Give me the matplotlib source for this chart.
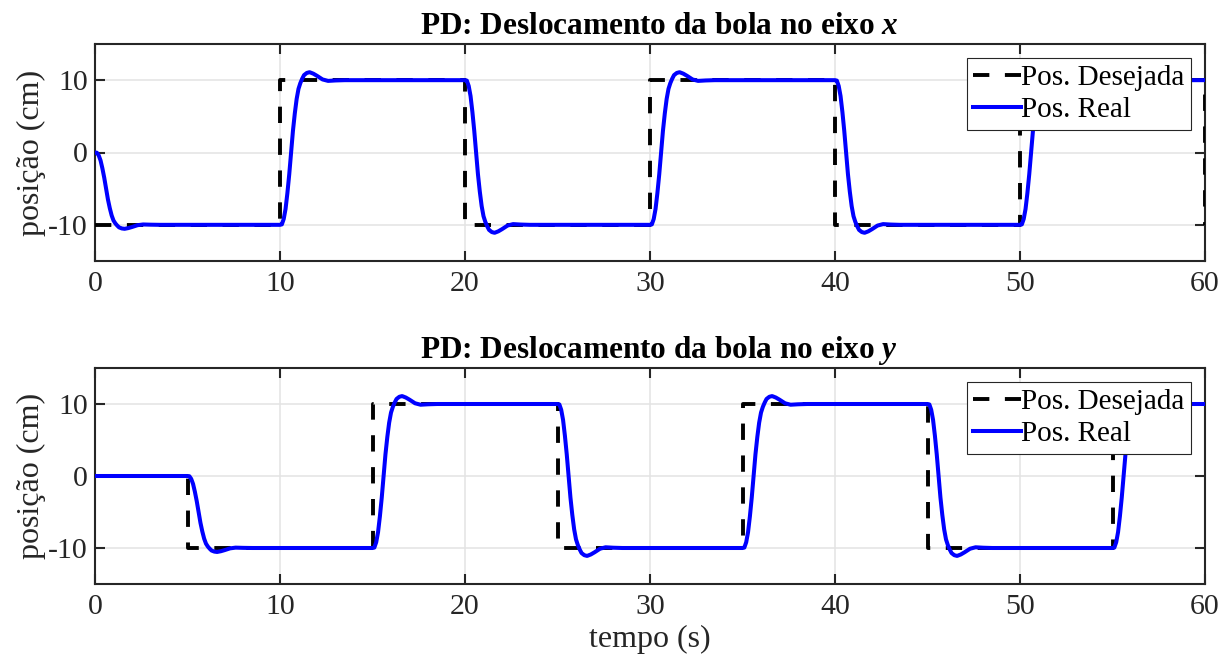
#!/usr/bin/env python
# PD controller: desired vs real ball position, x and y axes
import numpy as np
import matplotlib
matplotlib.use("Agg")
import matplotlib.pyplot as plt

plt.rcParams['font.family'] = ['Liberation Serif', 'DejaVu Serif']
plt.rcParams['mathtext.fontset'] = 'custom'
plt.rcParams['mathtext.it'] = 'Liberation Serif:italic:bold'
plt.rcParams['mathtext.rm'] = 'Liberation Serif'
tick_fs = 21.5
label_fs = 23
title_fs = 22.5
legend_fs = 21

t_end = 60

# desired reference: step times and level held after each step
x_step_times = [0, 10, 20, 30, 40, 50, 60]
x_levels = [-10, 10, -10, 10, -10, 10, -10]
x_start = 0  # initial ball position (cm)

y_step_times = [0, 5, 15, 25, 35, 45, 55]
y_levels = [0, -10, 10, -10, 10, -10, 10]
y_start = 0

# measured transition shape (fraction of the step) vs seconds after a step,
# read off the plotted response
tau = [0, 0.1, 0.2, 0.3, 0.4, 0.5, 0.6, 0.7, 0.8, 0.9, 1.0, 1.1, 1.2, 1.3,
       1.45, 1.6, 1.8, 2.0, 2.3, 2.6, 3.0, 3.5]
frac = [0, 0.003, 0.04, 0.11, 0.22, 0.35, 0.5, 0.65, 0.77, 0.87, 0.94, 0.98,
        1.01, 1.035, 1.05, 1.055, 1.045, 1.03, 1.005, 0.995, 0.998, 1.0]


def desired_curve(times, levels):
    tt, yy = [], []
    prev = None
    for t0, lv in zip(times, levels):
        if prev is not None:
            tt.append(t0)
            yy.append(prev)
        tt.append(t0)
        yy.append(lv)
        prev = lv
    if tt[-1] < t_end:
        tt.append(t_end)
        yy.append(prev)
    return tt, yy


def real_curve(times, levels, start):
    tt, yy = [0], [start]
    prev = start
    for t0, lv in zip(times, levels):
        if t0 >= t_end:
            break
        if lv == prev:
            continue
        for a, f in zip(tau, frac):
            tt.append(t0 + a)
            yy.append(prev + (lv - prev) * f)
        prev = lv
    tt.append(t_end)
    yy.append(prev)
    return tt, yy


def style_axes(ax, title):
    ax.set_xlim(0, t_end)
    ax.set_ylim(-15, 15)
    ax.set_xticks(np.arange(0, 61, 10))
    ax.set_yticks([-10, 0, 10])
    ax.set_yticklabels(['-10', '0', '10'])
    ax.grid(True, color='#e3e3e3', linewidth=1.1)
    ax.set_axisbelow(True)
    ax.tick_params(direction='in', length=7, width=1.5, top=True, right=True,
                   labelsize=tick_fs, colors='#262626')
    ax.tick_params(axis='x', pad=7)
    ax.tick_params(axis='y', pad=5)
    for sp in ax.spines.values():
        sp.set_linewidth(1.5)
        sp.set_color('#262626')
    ax.set_title(title, fontsize=title_fs, fontweight='bold', pad=7, x=0.508)
    ax.set_ylabel('posição (cm)', fontsize=label_fs, color='#262626', labelpad=2)


fig = plt.figure(figsize=(12.32, 6.64), dpi=100)
W, H = 1232., 664.
ax1 = fig.add_axes([95 / W, 1 - 261 / H, 1110 / W, 217 / H])
ax2 = fig.add_axes([95 / W, 1 - 584 / H, 1110 / W, 216 / H])

panels = [(ax1, x_step_times, x_levels, x_start,
           'PD: Deslocamento da bola no eixo $x$'),
          (ax2, y_step_times, y_levels, y_start,
           'PD: Deslocamento da bola no eixo $y$')]

for ax, st, lv, s0, title in panels:
    td, yd = desired_curve(st, lv)
    tr, yr = real_curve(st, lv, s0)
    ax.plot(td, yd, color='black', linewidth=2.8, linestyle=(0, (4.2, 4.0)),
            label='Pos. Desejada', zorder=3)
    ax.plot(tr, yr, color='#0000ff', linewidth=2.9, label='Pos. Real', zorder=4)
    style_axes(ax, title)
    leg = ax.legend(loc='upper right', bbox_to_anchor=(0.9875, 0.935),
                    fontsize=legend_fs, frameon=True, fancybox=False, framealpha=1,
                    edgecolor='#262626', borderpad=0.22, labelspacing=0.2,
                    handlelength=1.65, handletextpad=0.0, borderaxespad=0.0)
    leg.get_frame().set_linewidth(0.8)
    leg.set_zorder(10)

ax2.set_xlabel('tempo (s)', fontsize=label_fs, color='#262626', labelpad=4)

fig.savefig('out.png', dpi=100)
